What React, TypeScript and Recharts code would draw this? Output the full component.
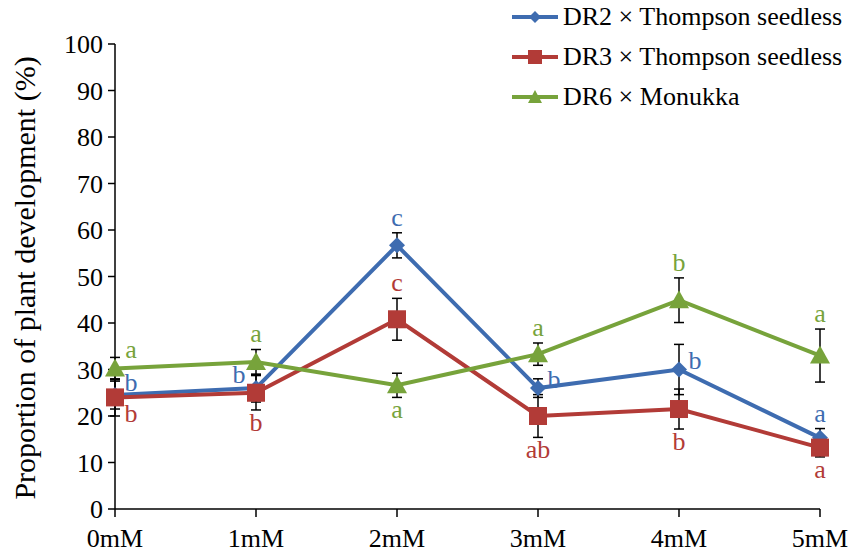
import React from 'react'
import { LineChart, Line, XAxis, YAxis, ErrorBar, LabelList } from 'recharts'

const doses = ['0mM', '1mM', '2mM', '3mM', '4mM', '5mM']
const seriesNames = ['DR2 × Thompson seedless', 'DR3 × Thompson seedless', 'DR6 × Monukka']

const dr2Values = [24.5, 26, 56.7, 26, 30, 15.3]
const dr2Errors = [3, 3, 2.7, 2, 5.4, 2]
const dr2Letters = ['b', 'b', 'c', 'b', 'b', 'a']

const dr3Values = [24, 25, 40.8, 20, 21.5, 13.2]
const dr3Errors = [4, 3.7, 4.5, 4.6, 4.3, 2]
const dr3Letters = ['b', 'b', 'c', 'ab', 'b', 'a']

const dr6Values = [30.2, 31.6, 26.6, 33.3, 44.9, 33]
const dr6Errors = [2.4, 2.7, 2.6, 2.4, 4.8, 5.7]
const dr6Letters = ['a', 'a', 'a', 'a', 'b', 'a']

const yTicks = [0, 10, 20, 30, 40, 50, 60, 70, 80, 90, 100]

// where each significance letter sits relative to its point
const dr2Place = ['rightUp', 'left', 'above', 'right', 'right', 'above']
const dr3Place = ['belowRight', 'below', 'above', 'below', 'below', 'below']
const dr6Place = ['aboveRight', 'above', 'below', 'above', 'above', 'above']

const BLUE = '#3E6CB0'
const RED = '#B23B37'
const GREEN = '#77A33B'
const FONT = '"Liberation Serif", "Times New Roman", serif'

const data = doses.map((dose, i) => ({
  dose,
  dr2: dr2Values[i],
  dr2Err: dr2Errors[i],
  dr2Letter: dr2Letters[i],
  dr3: dr3Values[i],
  dr3Err: dr3Errors[i],
  dr3Letter: dr3Letters[i],
  dr6: dr6Values[i],
  dr6Err: dr6Errors[i],
  dr6Letter: dr6Letters[i],
}))

const PX_PER_UNIT = 4.65

function letterLabel(color: string, places: string[], errors: number[]) {
  return (props: any) => {
    const { x, y, value, index } = props
    if (x == null || y == null) return null
    const err = errors[index] * PX_PER_UNIT
    let dx = 0
    let dy = 0
    switch (places[index]) {
      case 'right':
        dx = 16
        dy = -6
        break
      case 'rightUp':
        dx = 16
        dy = -10
        break
      case 'left':
        dx = -17
        dy = -11
        break
      case 'above':
        dy = -err - 13
        break
      case 'below':
        dy = err + 15
        break
      case 'belowRight':
        dx = 16
        dy = 19
        break
      case 'aboveRight':
        dx = 16
        dy = -17
        break
    }
    return (
      <text
        x={x + dx}
        y={y + dy}
        fill={color}
        fontSize={26}
        fontFamily={FONT}
        textAnchor="middle"
        dominantBaseline="middle"
      >
        {value}
      </text>
    )
  }
}

const Diamond = (props: any) => {
  const { cx, cy, index } = props
  if (cx == null || cy == null) return null
  return <path key={index} d={`M${cx},${cy - 8}L${cx + 8},${cy}L${cx},${cy + 8}L${cx - 8},${cy}Z`} fill={BLUE} />
}

const Square = (props: any) => {
  const { cx, cy, index } = props
  if (cx == null || cy == null) return null
  return <rect key={index} x={cx - 9} y={cy - 9} width={18} height={18} fill={RED} />
}

const Triangle = (props: any) => {
  const { cx, cy, index } = props
  if (cx == null || cy == null) return null
  return <path key={index} d={`M${cx},${cy - 10}L${cx + 10},${cy + 8}L${cx - 10},${cy + 8}Z`} fill={GREEN} />
}

const XTick = (props: any) => {
  const { x, y, payload } = props
  return (
    <text x={x} y={y + 28} textAnchor="middle" fontSize={26} fontFamily={FONT} fill="#000">
      {payload.value}
    </text>
  )
}

const YLabel = () => {
  const cy = 278
  return (
    <text
      x={35}
      y={cy}
      transform={`rotate(-90, 35, ${cy})`}
      textAnchor="middle"
      fontSize={30}
      fontFamily={FONT}
      fill="#000"
    >
      Proportion of plant development (%)
    </text>
  )
}

const legendColors = [BLUE, RED, GREEN]
const legendMarkers = ['diamond', 'square', 'triangle']

function LegendIcon({ color, marker }: { color: string; marker: string }) {
  return (
    <svg width={50} height={20} style={{ display: 'block' }}>
      <line x1={2} y1={10} x2={48} y2={10} stroke={color} strokeWidth={4} />
      {marker === 'diamond' && <path d="M25,4L31,10L25,16L19,10Z" fill={color} />}
      {marker === 'square' && <rect x={18} y={3} width={14} height={14} fill={color} />}
      {marker === 'triangle' && <path d="M25,3L32,16L18,16Z" fill={color} />}
    </svg>
  )
}

export default function App() {
  return (
    <div style={{ position: 'absolute', left: 0, top: 0, width: 860, height: 553, background: '#fff' }}>
      <LineChart width={860} height={553} data={data} margin={{ top: 44, right: 40, bottom: 10, left: 0 }}>
        <XAxis
          dataKey="dose"
          axisLine={{ stroke: '#000', strokeWidth: 1.5 }}
          tickLine={{ stroke: '#000', strokeWidth: 1.5 }}
          tickSize={8}
          tickMargin={2}
          height={34}
          tick={<XTick />}
          interval={0}
        />
        <YAxis
          domain={[0, 100]}
          ticks={yTicks}
          width={115}
          axisLine={{ stroke: '#000', strokeWidth: 1.5 }}
          tickLine={{ stroke: '#000', strokeWidth: 1.5 }}
          tickSize={7}
          tickMargin={5}
          tick={{ fontSize: 26, fontFamily: FONT, fill: '#000' }}
          label={<YLabel />}
        />
        <Line
          dataKey="dr2"
          stroke={BLUE}
          strokeWidth={4}
          dot={<Diamond />}
          activeDot={false}
          isAnimationActive={false}
        >
          <ErrorBar dataKey="dr2Err" width={5} stroke="#000" strokeWidth={1.5} direction="y" />
          <LabelList dataKey="dr2Letter" content={letterLabel(BLUE, dr2Place, dr2Errors)} />
        </Line>
        <Line
          dataKey="dr3"
          stroke={RED}
          strokeWidth={4}
          dot={<Square />}
          activeDot={false}
          isAnimationActive={false}
        >
          <ErrorBar dataKey="dr3Err" width={5} stroke="#000" strokeWidth={1.5} direction="y" />
          <LabelList dataKey="dr3Letter" content={letterLabel(RED, dr3Place, dr3Errors)} />
        </Line>
        <Line
          dataKey="dr6"
          stroke={GREEN}
          strokeWidth={4}
          dot={<Triangle />}
          activeDot={false}
          isAnimationActive={false}
        >
          <ErrorBar dataKey="dr6Err" width={5} stroke="#000" strokeWidth={1.5} direction="y" />
          <LabelList dataKey="dr6Letter" content={letterLabel(GREEN, dr6Place, dr6Errors)} />
        </Line>
      </LineChart>
      <div style={{ position: 'absolute', left: 510, top: -3, fontFamily: FONT, fontSize: 26, color: '#000' }}>
        {seriesNames.map((name, i) => (
          <div key={name} style={{ display: 'flex', alignItems: 'center', height: 40 }}>
            <LegendIcon color={legendColors[i]} marker={legendMarkers[i]} />
            <span style={{ marginLeft: 3, whiteSpace: 'nowrap' }}>{name}</span>
          </div>
        ))}
      </div>
    </div>
  )
}
